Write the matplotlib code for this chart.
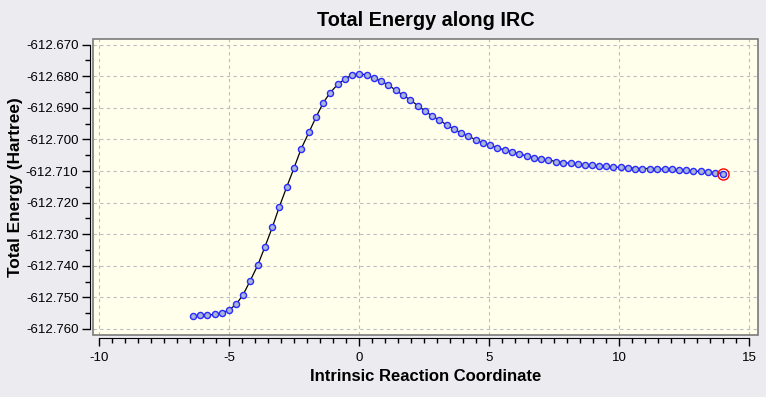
import matplotlib
matplotlib.use("Agg")
import matplotlib.pyplot as plt
from matplotlib.patches import Rectangle
from matplotlib.ticker import MultipleLocator, FormatStrFormatter

plt.rcParams['font.family'] = ['Liberation Sans', 'DejaVu Sans']
plt.rcParams['axes.unicode_minus'] = False

# IRC points
irc = [-6.39, -6.12, -5.83, -5.54, -5.27, -5.00, -4.72, -4.45, -4.19, -3.89,
       -3.62, -3.33, -3.06, -2.78, -2.50, -2.23, -1.92, -1.65, -1.38, -1.12,
       -0.81, -0.54, -0.27, 0.00, 0.30, 0.58, 0.85, 1.13, 1.41, 1.69,
       1.96, 2.27, 2.54, 2.81, 3.08, 3.38, 3.65, 3.92, 4.19, 4.50,
       4.77, 5.04, 5.32, 5.62, 5.88, 6.15, 6.46, 6.73, 7.00, 7.27,
       7.58, 7.85, 8.13, 8.40, 8.68, 8.95, 9.23, 9.50, 9.77, 10.08,
       10.35, 10.62, 10.88, 11.17, 11.44, 11.74, 12.01, 12.30, 12.56, 12.83,
       13.14, 13.41, 13.68, 14.00]
energy = [-612.7560, -612.7557, -612.7557, -612.7553, -612.7550, -612.7540, -612.7522,
          -612.7491, -612.7449, -612.7398, -612.7341, -612.7278, -612.7213, -612.7151,
          -612.7091, -612.7031, -612.6977, -612.6929, -612.6885, -612.6853, -612.6825,
          -612.6809, -612.6796, -612.6792, -612.6796, -612.6806, -612.6815, -612.6828,
          -612.6844, -612.6860, -612.6874, -612.6894, -612.6910, -612.6926, -612.6938,
          -612.6955, -612.6967, -612.6980, -612.6989, -612.7002, -612.7012, -612.7018,
          -612.7027, -612.7034, -612.7040, -612.7045, -612.7053, -612.7058, -612.7063,
          -612.7065, -612.7070, -612.7073, -612.7076, -612.7079, -612.7081, -612.7081,
          -612.7084, -612.7084, -612.7088, -612.7088, -612.7089, -612.7092, -612.7092,
          -612.7092, -612.7094, -612.7094, -612.7095, -612.7097, -612.7098, -612.7101,
          -612.7101, -612.7103, -612.7105, -612.7108]

fig = plt.figure(figsize=(7.66, 3.97), dpi=100)
fig.patch.set_facecolor('#ecebef')
ax = fig.add_axes([0.1214, 0.1562, 0.8682, 0.7456])
ax.set_facecolor('#ffffeb')

ax.plot(irc, energy, color='black', lw=0.9, zorder=3)
ax.plot(irc, energy, 'o', ms=4.4, mfc='#a9b6d6', mec='#2a2aff', mew=1.0, zorder=4)
ax.plot(irc[-1], energy[-1], 'o', ms=8, mfc='none', mec='red', mew=1.0, zorder=5)

ax.set_xlim(-10.22, 15.33)
ax.set_ylim(-612.7619, -612.6682)

ax.xaxis.set_major_locator(MultipleLocator(5))
ax.xaxis.set_minor_locator(MultipleLocator(0.5))
ax.yaxis.set_major_locator(MultipleLocator(0.01))
ax.yaxis.set_minor_locator(MultipleLocator(0.005))
ax.yaxis.set_major_formatter(FormatStrFormatter('%.3f'))
ax.xaxis.set_major_formatter(FormatStrFormatter('%d'))

ax.grid(True, which='major', color='#bcbcc4', ls=(0, (3, 3)), lw=0.8)
ax.set_axisbelow(True)

for s in ['top', 'right']:
    ax.spines[s].set_visible(False)
ax.spines['left'].set_position(('outward', 2.5))
ax.spines['bottom'].set_position(('outward', 2.5))
ax.spines['left'].set_bounds(-612.760, -612.670)
ax.spines['bottom'].set_bounds(-10, 15)

ax.tick_params(which='major', length=6, width=1, labelsize=9.5, direction='out')
ax.tick_params(axis='x', which='major', pad=4)
ax.tick_params(axis='y', which='major', pad=2)
ax.tick_params(which='minor', length=3.5, width=1, direction='out')

# grey frame around the plot area
ax.add_patch(Rectangle((0, 0), 1, 1, transform=ax.transAxes, fill=False,
                       ec='#7a7a7a', lw=1.2, clip_on=False, zorder=6))

ax.set_title('Total Energy along IRC', fontsize=14.3, fontweight='bold', pad=9)
ax.set_xlabel('Intrinsic Reaction Coordinate', fontsize=12, fontweight='bold', labelpad=3)
ax.set_ylabel('Total Energy (Hartree)', fontsize=12.4, fontweight='bold', labelpad=2)

fig.savefig('out.png', dpi=100, facecolor=fig.get_facecolor())
